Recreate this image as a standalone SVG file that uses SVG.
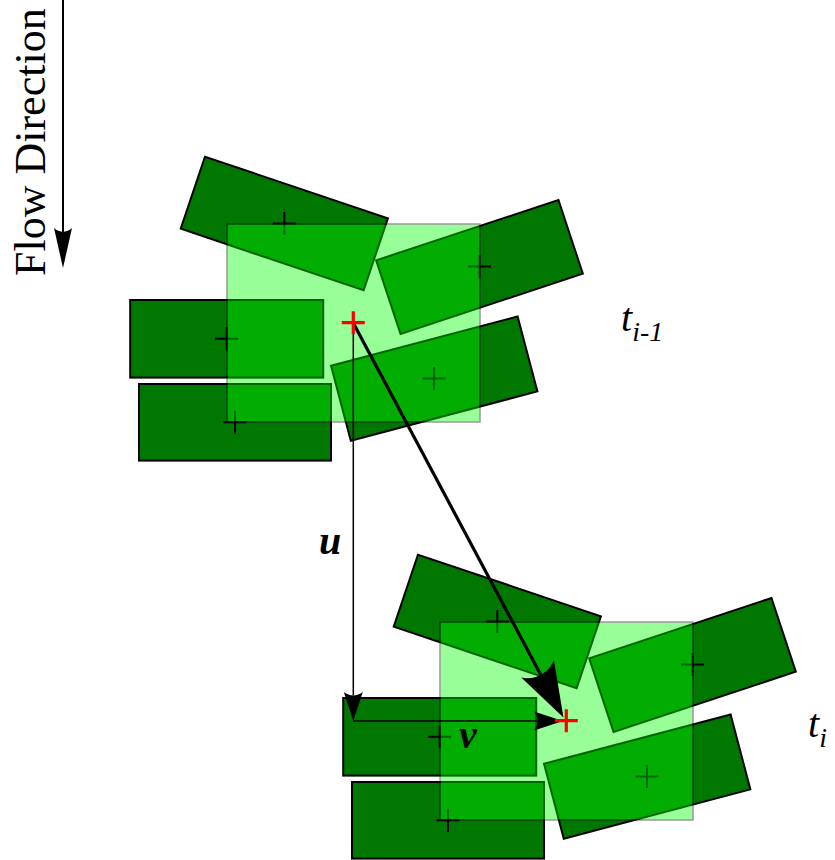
<svg xmlns="http://www.w3.org/2000/svg" width="835" height="860" viewBox="0 0 835 860">
<style>
.blk{fill:#007700;stroke:#000;stroke-width:2}
.cr{stroke:#000;stroke-width:2;fill:none}
.ov{fill:#00ff00;stroke:#000;stroke-width:1.5;opacity:0.4}
.rc{stroke:#ff0000;stroke-width:3.2;fill:none}
</style>
<defs>
<marker id="mBig" markerUnits="userSpaceOnUse" orient="auto" refX="0" refY="0" markerWidth="60" markerHeight="40" overflow="visible">
<path d="M48,0 L-7,-18.5 C2,-7 2,7 -7,18.5 Z" fill="#000"/>
</marker>
<marker id="mSmall" markerUnits="userSpaceOnUse" orient="auto" refX="0" refY="0" markerWidth="40" markerHeight="30" overflow="visible">
<path d="M25.5,0 L-3.5,-9.5 C1,-3.8 1,3.8 -3.5,9.5 Z" fill="#000"/>
</marker>
<marker id="mFlow" markerUnits="userSpaceOnUse" orient="auto" refX="0" refY="0" markerWidth="50" markerHeight="30" overflow="visible">
<path d="M34,0 L-6,-9 C-1,-3.5 -1,3.5 -6,9 Z" fill="#000"/>
</marker>
<path id="xc" d="M-11.5,0 H11.5 M0,-11.5 V11.5"/>
</defs>
<rect width="835" height="860" fill="#fff"/>

<g id="flow-direction">
<text font-family="Liberation Serif, DejaVu Serif, serif" font-size="44" fill="#000" transform="rotate(-90)" x="-276" y="45">Flow Direction</text>
<line x1="63" y1="0" x2="63" y2="234" stroke="#000" stroke-width="2" marker-end="url(#mFlow)"/>
</g>

<g id="frame-prev">
<g id="p1"><rect class="blk" x="-96.5" y="-38" width="193" height="76" transform="translate(284.3,223.5) rotate(18.6)"/><use href="#xc" class="cr" transform="translate(284.3,223.5)"/></g>
<g id="p2"><rect class="blk" x="130.2" y="300" width="193" height="77.6"/><use href="#xc" class="cr" transform="translate(226.7,338.8)"/></g>
<g id="p3"><rect class="blk" x="139" y="384" width="192" height="76.6"/><use href="#xc" class="cr" transform="translate(235,422.3)"/></g>
<g id="p4"><rect class="blk" x="-96" y="-38.8" width="192" height="77.6" transform="translate(479.5,267) rotate(-18.3)"/><use href="#xc" class="cr" transform="translate(479.5,266.5)"/></g>
<g id="p5"><rect class="blk" x="-96.5" y="-38.7" width="193" height="77.4" transform="translate(434.2,378.6) rotate(-14.8)"/><use href="#xc" class="cr" transform="translate(434,378.6)"/></g>
<g id="window-prev"><rect class="ov" x="227" y="224" width="253" height="198"/></g>
</g>

<g id="frame-cur" transform="translate(213,398)">
<g id="q1"><rect class="blk" x="-96.5" y="-38" width="193" height="76" transform="translate(284.3,223.5) rotate(18.6)"/><use href="#xc" class="cr" transform="translate(284.3,223.5)"/></g>
<g id="q2"><rect class="blk" x="130.2" y="300" width="193" height="77.6"/><use href="#xc" class="cr" transform="translate(226.7,338.8)"/></g>
<g id="q3"><rect class="blk" x="139" y="384" width="192" height="76.6"/><use href="#xc" class="cr" transform="translate(235,422.3)"/></g>
<g id="q4"><rect class="blk" x="-96" y="-38.8" width="192" height="77.6" transform="translate(479.5,267) rotate(-18.3)"/><use href="#xc" class="cr" transform="translate(479.5,266.5)"/></g>
<g id="q5"><rect class="blk" x="-96.5" y="-38.7" width="193" height="77.4" transform="translate(434.2,378.6) rotate(-14.8)"/><use href="#xc" class="cr" transform="translate(434,378.6)"/></g>
<g id="window-cur"><rect class="ov" x="227" y="224" width="253" height="198"/></g>
</g>

<g id="connectors">
<line id="u-vec" x1="353.3" y1="325" x2="353.3" y2="695.5" stroke="#000" stroke-width="1.5" marker-end="url(#mSmall)"/>
<line id="v-vec" x1="353" y1="721" x2="537.5" y2="721" stroke="#000" stroke-width="1.5" marker-end="url(#mSmall)"/>
<line id="disp" x1="353.3" y1="323" x2="540.9" y2="675.1" stroke="#000" stroke-width="3.2" marker-end="url(#mBig)"/>
</g>

<g id="centroid-prev"><use href="#xc" class="rc" transform="translate(353.3,322.7)"/></g>
<g id="centroid-cur"><use href="#xc" class="rc" transform="translate(566.3,720.7)"/></g>

<g id="labels" font-family="Liberation Serif, DejaVu Serif, serif" fill="#000">
<text font-style="italic" font-size="40" x="621" y="331">t<tspan font-size="28" dy="10">i-1</tspan></text>
<text font-style="italic" font-size="40" x="808" y="737">t<tspan font-size="28" dy="10">i</tspan></text>
<text font-style="italic" font-weight="bold" font-size="40" x="319" y="554">u</text>
<text font-style="italic" font-weight="bold" font-size="40" x="459" y="748">v</text>
</g>
</svg>
